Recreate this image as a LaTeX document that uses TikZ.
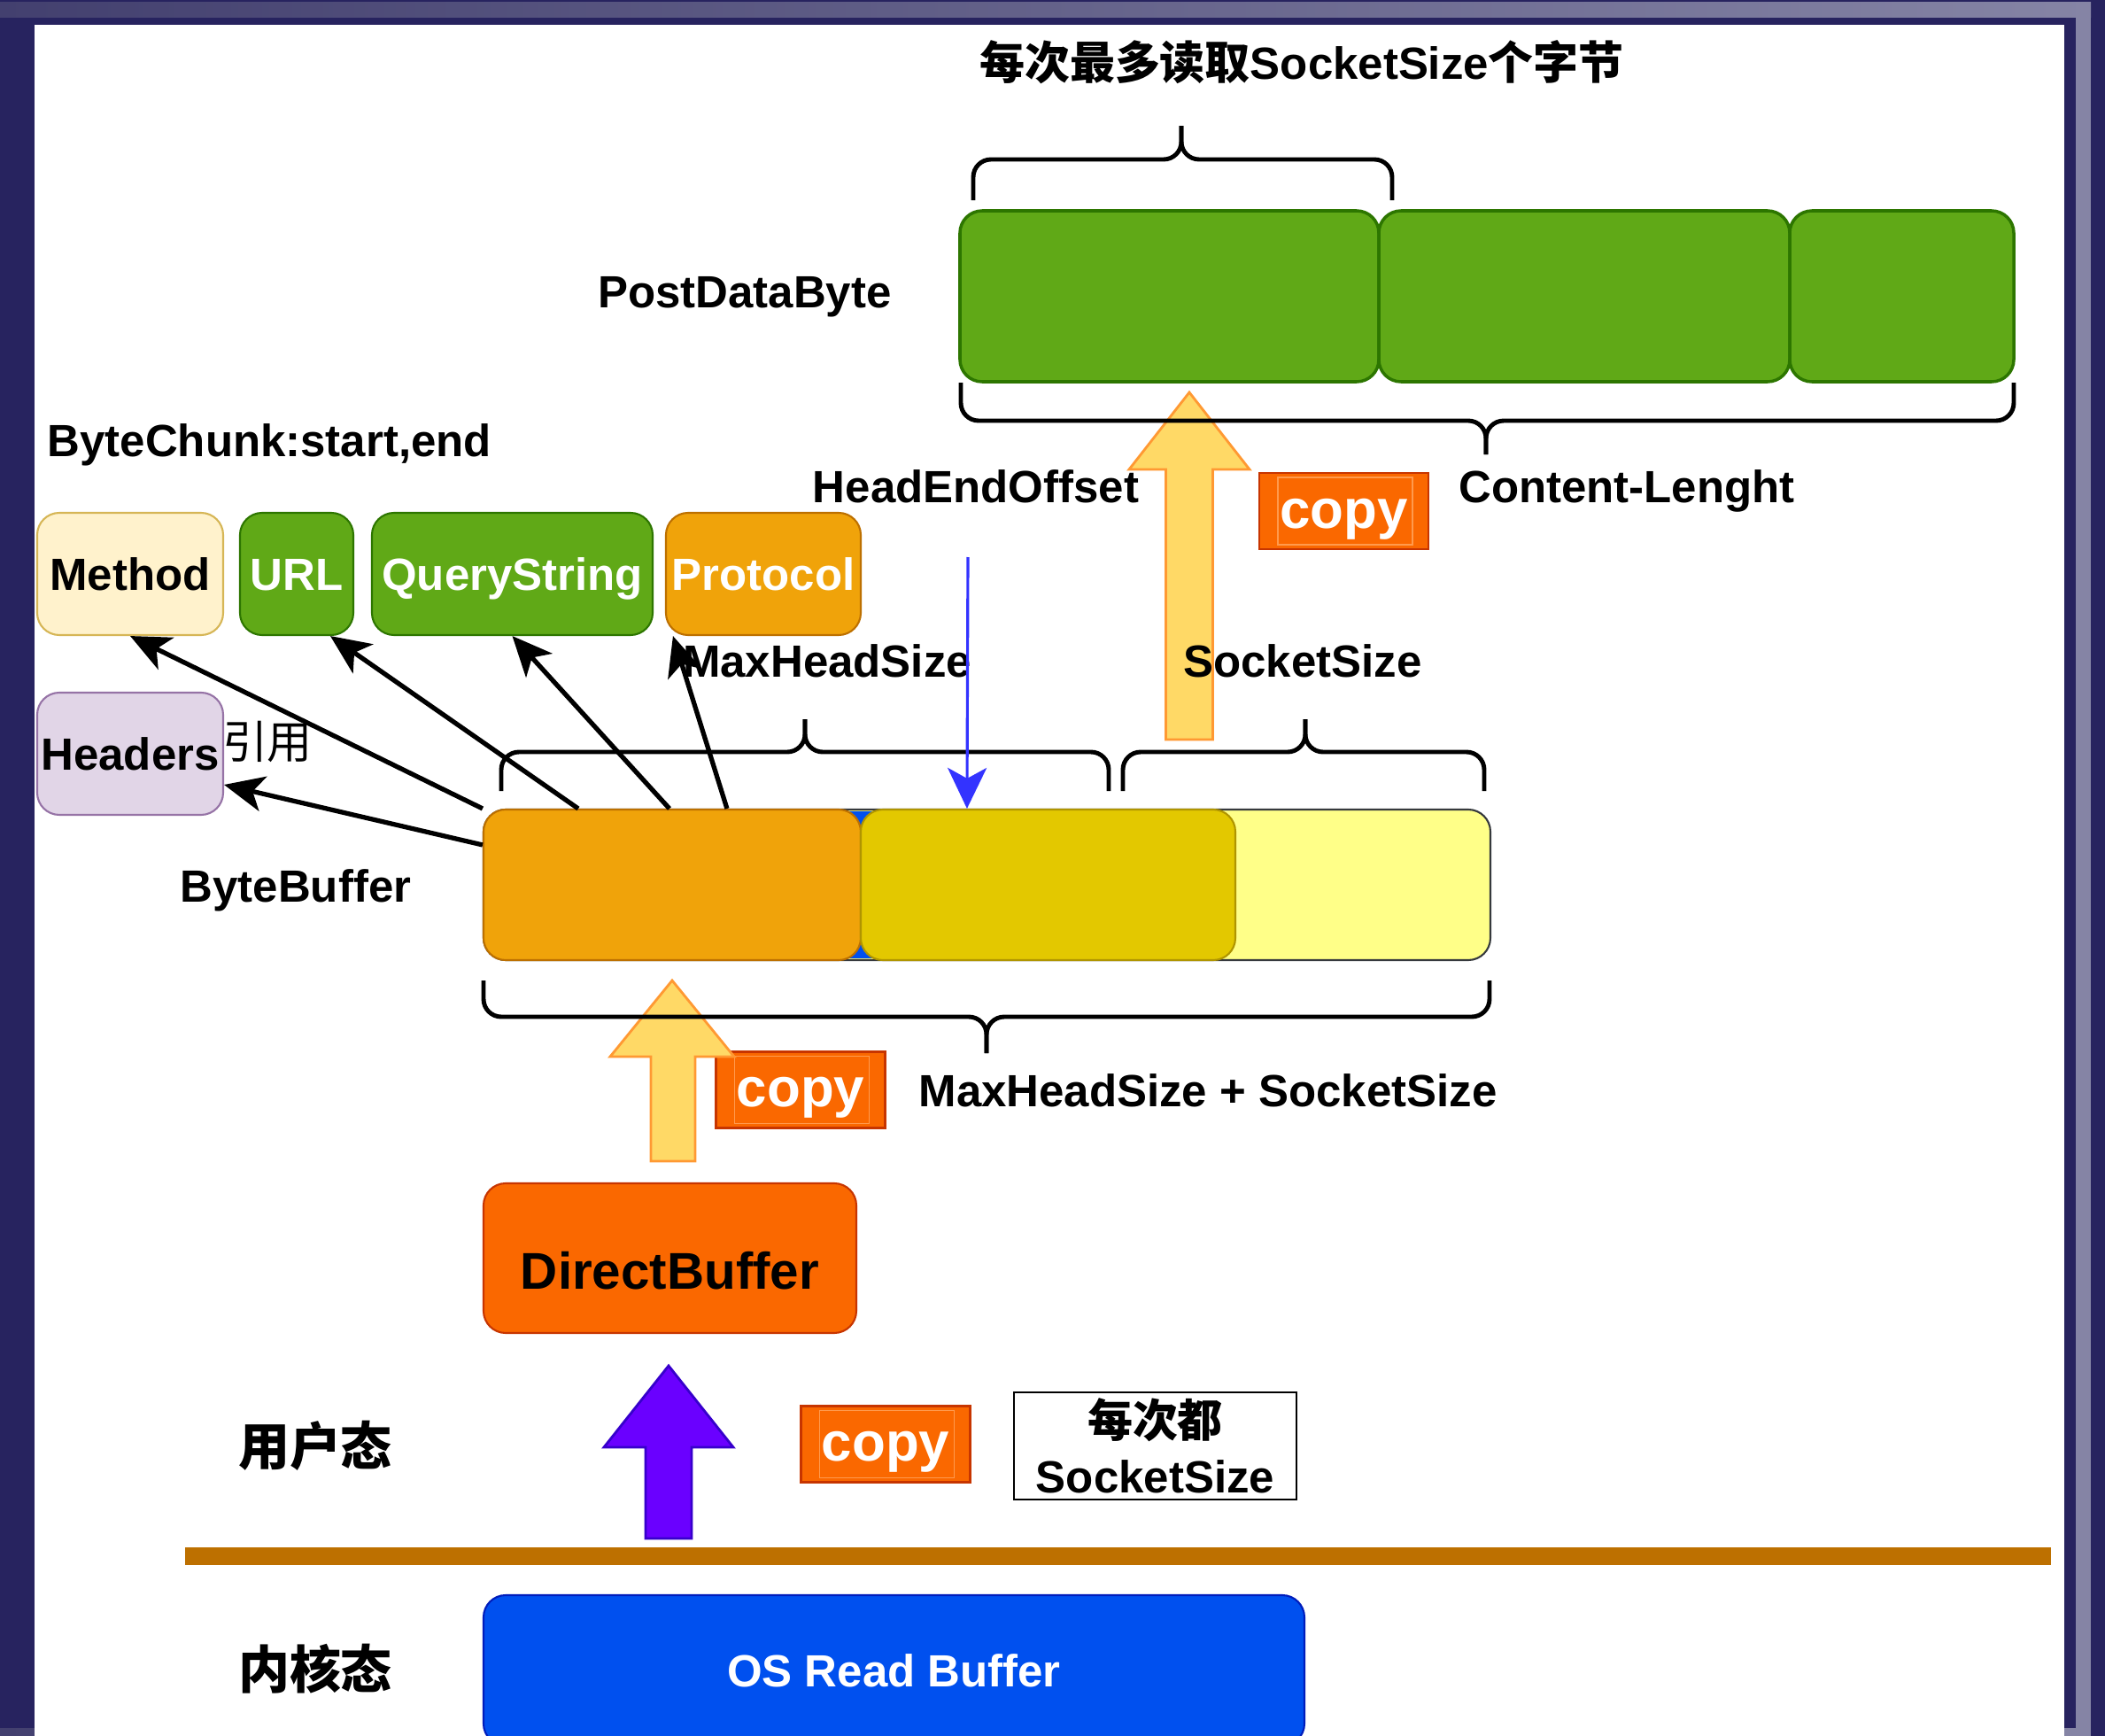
\documentclass[tikz,border=0pt]{standalone}
\usepackage{fontspec}
\setmainfont{Liberation Sans}
\newfontfamily\cjk{Noto Sans CJK SC}
\usetikzlibrary{arrows.meta, positioning, calc}

\definecolor{frame}{HTML}{27235F}
\definecolor{frameL}{HTML}{43406F}
\definecolor{frameR}{HTML}{8584A5}
\definecolor{grfill}{HTML}{60A917}
\definecolor{grline}{HTML}{2D7600}
\definecolor{orfill}{HTML}{F0A30A}
\definecolor{orline}{HTML}{BD7000}
\definecolor{ylfill}{HTML}{E3C800}
\definecolor{ylline}{HTML}{B09500}
\definecolor{ltfill}{HTML}{FFFF88}
\definecolor{ltline}{HTML}{36393D}
\definecolor{mtfill}{HTML}{FFF2CC}
\definecolor{mtline}{HTML}{D6B656}
\definecolor{hdfill}{HTML}{E1D5E7}
\definecolor{hdline}{HTML}{9673A6}
\definecolor{cpfill}{HTML}{FA6800}
\definecolor{cpline}{HTML}{C73500}
\definecolor{cpinner}{HTML}{FF9A4D}
\definecolor{osfill}{HTML}{0050EF}
\definecolor{osline}{HTML}{001DBC}
\definecolor{pufill}{HTML}{6A00FF}
\definecolor{puline}{HTML}{3700CC}
\definecolor{arfill}{HTML}{FFD966}
\definecolor{arline}{HTML}{FF9933}
\definecolor{sepbar}{HTML}{BD7000}
\definecolor{offset}{HTML}{3333FF}

\begin{document}
\begin{tikzpicture}[
    lbl/.style={font=\bfseries\fontsize{14.5}{17}\selectfont, inner sep=0pt,
                text height=10.4pt, text depth=0pt},
    blk/.style={draw, rounded corners=0.25cm, line width=0.6pt, inner sep=0pt,
                text height=10.4pt, text depth=0pt,
                font=\bfseries\fontsize{14.5}{17}\selectfont},
    copybox/.style={fill=cpfill, draw=cpline, line width=0.6pt, text=white,
                inner sep=0pt, minimum width=1.91cm, minimum height=0.86cm,
                text height=14pt, text depth=3.1pt,
                font=\bfseries\fontsize{17.6}{20}\selectfont,
                path picture={\draw[cpinner, line width=0.5pt]
                  ([xshift=0.21cm, yshift=-0.05cm]path picture bounding box.north west)
                  rectangle
                  ([xshift=-0.18cm, yshift=0.05cm]path picture bounding box.south east);}},
    fat/.style={line width=0.8pt, line join=miter},
    brc/.style={line width=1.4pt, rounded corners=0.2cm},
    ref/.style={line width=1.5pt, -{Stealth[length=0.45cm, width=0.4cm, inset=0.12cm]}},
    >=Stealth
  ]
  % frame
  \useasboundingbox (0,0) rectangle (23.77,-19.60);
  \fill[frame] (0,0) rectangle (23.77,-19.60);
  \shade[left color=frameL, right color=frameR] (0,-0.03) rectangle (23.61,-0.19);
  \fill[frameR] (23.44,-0.03) rectangle (23.61,-19.60);
  \shade[left color=frameL, right color=frameR] (0,-19.51) rectangle (23.44,-19.60);
  \fill[white] (0.39,-0.28) rectangle (23.31,-19.60);

  % PostDataByte
  \node[blk, fill=grfill, draw=grline, line width=1pt, minimum width=4.73cm, minimum height=1.93cm] (post1) at (13.205,-3.345) {};
  \node[blk, fill=grfill, draw=grline, line width=1pt, minimum width=4.64cm, minimum height=1.93cm] (post2) at (17.89,-3.345) {};
  \node[blk, fill=grfill, draw=grline, line width=1pt, minimum width=2.53cm, minimum height=1.93cm] (post3) at (21.475,-3.345) {};

  % ByteChunk
  \node[blk, fill=mtfill, draw=mtline, minimum width=2.10cm, minimum height=1.38cm] (method) at (1.47,-6.48) {Method};
  \node[blk, fill=grfill, draw=grline, text=white, minimum width=1.28cm, minimum height=1.38cm] (url) at (3.35,-6.48) {URL};
  \node[blk, fill=grfill, draw=grline, text=white, minimum width=3.17cm, minimum height=1.38cm] (query) at (5.785,-6.48) {QueryString};
  \node[blk, fill=orfill, draw=orline, text=white, minimum width=2.20cm, minimum height=1.38cm] (protocol) at (8.62,-6.48) {Protocol};
  \node[blk, fill=hdfill, draw=hdline, minimum width=2.10cm, minimum height=1.38cm] (headers) at (1.47,-8.51) {Headers};

  % ByteBuffer
  \node[blk, fill=ltfill, draw=ltline, minimum width=11.37cm, minimum height=1.70cm] (bb) at (11.145,-9.99) {};
  \fill[osfill] (9.55,-9.16) rectangle (9.90,-10.82);
  \node[blk, fill=orfill, draw=orline, minimum width=4.26cm, minimum height=1.70cm] (seg1) at (7.59,-9.99) {};
  \node[blk, fill=ylfill, draw=ylline, minimum width=4.23cm, minimum height=1.70cm] (seg2) at (11.835,-9.99) {};

  \node[blk, fill=cpfill, draw=cpline, font=\bfseries\fontsize{16.6}{20}\selectfont,
        text height=19.7pt, minimum width=4.21cm, minimum height=1.69cm] (direct) at (7.565,-14.205) {DirectBuffer};
  \node[blk, fill=osfill, draw=osline, text=white, minimum width=9.27cm, minimum height=1.70cm] (os) at (10.095,-18.86) {OS Read Buffer};

  \node[copybox] (copy1) at (15.175,-5.77) {copy};
  \node[copybox] (copy2) at (9.04,-12.305) {copy};
  \node[copybox] (copy3) at (10.00,-16.305) {copy};
  \node[draw, line width=0.8pt, fill=white, minimum width=3.19cm, minimum height=1.21cm,
        inner sep=0pt, align=center, font=\bfseries\fontsize{14.5}{18}\selectfont]
        (every) at (13.045,-16.325) {{\cjk 每次都}\\SocketSize};

  % user / kernel
  \draw[sepbar, line width=0.2cm] (2.09,-17.57) -- (23.16,-17.57);

  % copy arrows
  \draw[fat, fill=arfill, draw=arline] (13.165,-8.35) -- (13.165,-5.30) -- (12.75,-5.30) -- (13.43,-4.43)
    -- (14.11,-5.30) -- (13.695,-5.30) -- (13.695,-8.35) -- cycle;
  \draw[fat, fill=arfill, draw=arline] (7.35,-13.11) -- (7.35,-11.93) -- (6.89,-11.93) -- (7.59,-11.07)
    -- (8.29,-11.93) -- (7.85,-11.93) -- (7.85,-13.11) -- cycle;
  \draw[fat, fill=pufill, draw=puline] (7.29,-17.37) -- (7.29,-16.34) -- (6.82,-16.34) -- (7.55,-15.42)
    -- (8.28,-16.34) -- (7.81,-16.34) -- (7.81,-17.37) -- cycle;

  % braces
  \draw[brc] (10.99,-2.26) |- (13.34,-1.80) -- (13.34,-1.42);
  \draw[brc] (15.72,-2.26) |- (13.34,-1.80) -- (13.34,-1.42);
  \draw[brc] (10.85,-4.32) |- (16.78,-4.75) -- (16.78,-5.13);
  \draw[brc] (22.74,-4.32) |- (16.78,-4.75) -- (16.78,-5.13);
  \draw[brc] (5.66,-8.93) |- (9.09,-8.49) -- (9.09,-8.12);
  \draw[brc] (12.52,-8.93) |- (9.09,-8.49) -- (9.09,-8.12);
  \draw[brc] (12.68,-8.93) |- (14.74,-8.49) -- (14.74,-8.12);
  \draw[brc] (16.76,-8.93) |- (14.74,-8.49) -- (14.74,-8.12);
  \draw[brc] (5.46,-11.07) |- (11.14,-11.48) -- (11.14,-11.89);
  \draw[brc] (16.82,-11.07) |- (11.14,-11.48) -- (11.14,-11.89);

  % labels
  \node[lbl] (title) at (14.70,-0.71) {{\cjk 每次最多读取}SocketSize{\cjk 个字节}};
  \node[lbl] (postname) at (8.41,-3.29) {PostDataByte};
  \node[lbl] (contentlen) at (18.37,-5.49) {Content-Lenght};
  \node[lbl] (headend) at (11.02,-5.49) {HeadEndOffset};
  \node[lbl, anchor=west] (chunk) at (0.53,-4.97) {ByteChunk:start,end};
  \node[lbl] (maxhead) at (9.34,-7.46) {MaxHeadSize};
  \node[lbl] (socket) at (14.71,-7.46) {SocketSize};
  \node[lbl, font=\cjk\fontsize{14.5}{17}\selectfont] (quote) at (3.02,-8.38) {引用};
  \node[lbl] (bbname) at (3.34,-10.00) {ByteBuffer};
  \node[lbl] (total) at (13.64,-12.31) {MaxHeadSize + SocketSize};
  \node[lbl, font=\cjk\bfseries\fontsize{16.5}{20}\selectfont] (user) at (3.56,-16.36) {用户态};
  \node[lbl, font=\cjk\bfseries\fontsize{16.5}{20}\selectfont] (kernel) at (3.56,-18.88) {内核态};

  % references into the buffer
  \draw[ref] (bb.north west) -- (method.south);
  \draw[ref] ([xshift=1.08cm]bb.north west) -- ([xshift=0.38cm]url.south);
  \draw[ref] ([xshift=2.11cm]bb.north west) -- (query.south);
  \draw[ref] ([xshift=2.76cm]bb.north west) -- ([xshift=0.09cm]protocol.south west);
  \draw[ref] ([yshift=-0.41cm]bb.north west) -- ([yshift=-0.35cm]headers.east);

  \coordinate (offtop) at (10.93,-6.29);
  \draw[offset, line width=0.9pt, -{Stealth[length=0.46cm, width=0.44cm, inset=0.12cm]}]
    (offtop) -- ([xshift=5.47cm]bb.north west);
\end{tikzpicture}
\end{document}
